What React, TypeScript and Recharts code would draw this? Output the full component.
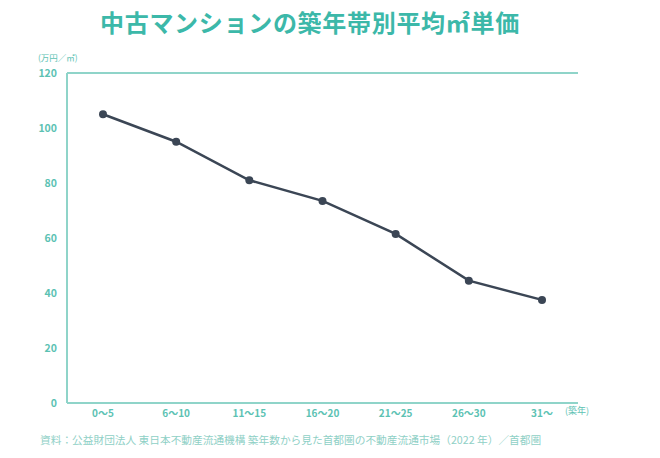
import React from "react";
import { LineChart, Line, XAxis, YAxis, CartesianGrid } from "recharts";

const categories = ["0〜5", "6〜10", "11〜15", "16〜20", "21〜25", "26〜30", "31〜"];
const prices = [105, 95, 81, 73.5, 61.5, 44.5, 37.5];
const yTicks = [0, 20, 40, 60, 80, 100, 120];

const data = categories.map((c, i) => ({ name: c, value: prices[i] }));

const TEAL = "#8fd4c9";
const TEXT = "#5cc2b3";
const LINE = "#3b4655";

export default function App() {
  return (
    <div style={{ position: "absolute", left: 0, top: 0, width: 660, height: 458, background: "#fff", fontFamily: "'Noto Sans CJK JP', sans-serif" }}>
      <div style={{ position: "absolute", left: 100, top: 4, fontSize: 24, fontWeight: 700, color: "#3cb8a9", letterSpacing: 0.7, whiteSpace: "nowrap" }}>
        中古マンションの築年帯別平均㎡単価
      </div>
      <div style={{ position: "absolute", left: 38, top: 51, fontSize: 8.5, color: TEXT, whiteSpace: "nowrap" }}>(万円／㎡)</div>
      <div style={{ position: "absolute", left: 565, top: 404, fontSize: 9, color: TEXT, whiteSpace: "nowrap" }}>(築年)</div>
      <div style={{ position: "absolute", left: 40, top: 432, fontSize: 10.7, color: "#8fd0c6", whiteSpace: "nowrap" }}>
        資料：公益財団法人 東日本不動産流通機構 築年数から見た首都圏の不動産流通市場（2022 年）／首都圏
      </div>
      <LineChart width={660} height={458} data={data} margin={{ top: 73, right: 82, bottom: 35, left: 37 }} style={{ position: "absolute", left: 0, top: 0 }}>
        <CartesianGrid vertical={false} stroke={TEAL} strokeWidth={2} />
        <XAxis
          dataKey="name"
          padding={{ left: 36, right: 36 }}
          axisLine={{ stroke: TEAL, strokeWidth: 2 }}
          tickLine={false}
          tick={{ fill: TEXT, fontSize: 10, fontWeight: 700 }}
          height={20}
          tickMargin={1}
          interval={0}
        />
        <YAxis
          yAxisId="left"
          domain={[0, 120]}
          ticks={yTicks}
          width={30}
          axisLine={{ stroke: TEAL, strokeWidth: 2 }}
          tickLine={false}
          tick={{ fill: TEXT, fontSize: 10.5, fontWeight: 700 }}
          tickMargin={4}
        />
        <YAxis
          yAxisId="right"
          orientation="right"
          domain={[0, 120]}
          width={0}
          axisLine={{ stroke: TEAL, strokeWidth: 2 }}
          tickLine={false}
          tick={false}
        />
        <Line
          yAxisId="left"
          dataKey="value"
          stroke={LINE}
          strokeWidth={2.5}
          dot={{ r: 4, fill: LINE, stroke: LINE, strokeWidth: 0 }}
          isAnimationActive={false}
        />
      </LineChart>
    </div>
  );
}
